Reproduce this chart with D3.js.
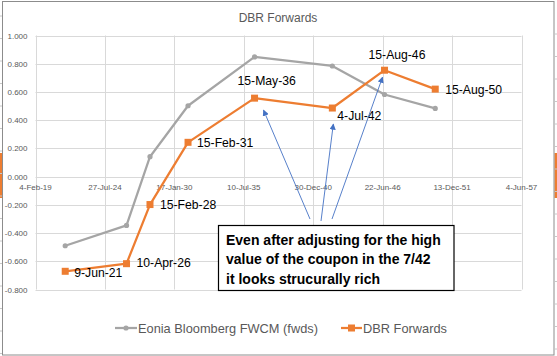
<!DOCTYPE html>
<html><head><meta charset="utf-8">
<script src="https://cdn.jsdelivr.net/npm/d3@7"></script>
<style>html,body{margin:0;padding:0;background:#fff;}svg{display:block;font-family:"Liberation Sans",Arial,sans-serif;}</style>
</head><body><svg id="c" width="557" height="356"></svg>
<script>
// ---- data ----
const dates = ["2021-06-09","2026-04-10","2028-02-15","2031-02-15","2036-05-15","2042-07-04","2046-08-15","2050-08-15"];
const dateLabels = ["9-Jun-21","10-Apr-26","15-Feb-28","15-Feb-31","15-May-36","4-Jul-42","15-Aug-46","15-Aug-50"];
const eonia = [-0.490, -0.346, 0.141, 0.502, 0.848, 0.784, 0.582, 0.483];
const dbr = [-0.671, -0.617, -0.198, 0.243, 0.556, 0.486, 0.754, 0.620];
const xTicks = ["2019-02-04","2024-07-27","2030-01-17","2035-07-10","2040-12-30","2046-06-22","2051-12-13","2057-06-04"];
const yTicks = [1.0, 0.8, 0.6, 0.4, 0.2, 0.0, -0.2, -0.4, -0.6, -0.8];
const seriesNames = ["Eonia Bloomberg FWCM (fwds)", "DBR Forwards"];
const title = "DBR Forwards";
const noteLines = ["Even after adjusting for the high", "value of the coupon in the 7/42", "it looks strucurally rich"];

// ---- drawing ----
const svg = d3.select("#c");
const parse = d3.utcParse("%Y-%m-%d");
const fmt = d3.utcFormat("%-d-%b-%y");
const GRAY = "#A5A5A5", ORANGE = "#ED7D31", TXT = "#595959", GRID = "#D9D9D9", BLUE = "#4472C4";

// excel background fragments
const bg = svg.append("g");
bg.append("rect").attr("x", 0).attr("y", 153).attr("width", 2.5).attr("height", 45).attr("fill", ORANGE);
bg.append("rect").attr("x", 554.5).attr("y", 153).attr("width", 2.5).attr("height", 45).attr("fill", ORANGE);
d3.range(16, 356, 22.5).forEach(v => {
  bg.append("line").attr("x1", 0).attr("x2", 2).attr("y1", v).attr("y2", v).attr("stroke", "#c8c8c8");
  bg.append("line").attr("x1", 555).attr("x2", 557).attr("y1", v + 18).attr("y2", v + 18).attr("stroke", "#c8c8c8");
});

// chart frame
svg.append("rect").attr("x", 2.5).attr("y", 1.5).attr("width", 551.5).attr("height", 353.5)
  .attr("fill", "#fff").attr("stroke", "#8c8c8c").attr("stroke-width", 1);

const x = d3.scaleUtc().domain([parse(xTicks[0]), parse(xTicks[xTicks.length - 1])]).range([35.5, 521.5]);
const y = d3.scaleLinear().domain([-0.8, 1.0]).range([289.5, 35.5]);

// title
svg.append("text").attr("x", 278).attr("y", 22).attr("text-anchor", "middle")
  .attr("font-size", 12).attr("fill", TXT).text(title);

// gridlines
const grid = svg.append("g");
grid.selectAll("line.h").data(yTicks).join("line")
  .attr("x1", x.range()[0]).attr("x2", x.range()[1])
  .attr("y1", d => Math.round(y(d)) + 0.5).attr("y2", d => Math.round(y(d)) + 0.5)
  .attr("stroke", GRID);
grid.selectAll("line.v").data(xTicks).join("line")
  .attr("x1", d => Math.round(x(parse(d))) + 0.5).attr("x2", d => Math.round(x(parse(d))) + 0.5)
  .attr("y1", y.range()[1]).attr("y2", y.range()[0])
  .attr("stroke", GRID);

// y axis labels
svg.append("g").selectAll("text").data(yTicks).join("text")
  .attr("x", 27.5).attr("y", d => y(d) + 3)
  .attr("text-anchor", "end").attr("font-size", 8).attr("fill", TXT)
  .text(d => d.toFixed(3));

// x axis labels (at zero crossing)
svg.append("g").selectAll("text").data(xTicks).join("text")
  .attr("x", d => x(parse(d))).attr("y", y(0) + 13.5)
  .attr("text-anchor", "middle").attr("font-size", 8).attr("fill", TXT)
  .text(d => fmt(parse(d)));

const line = d3.line().x(d => x(d[0])).y(d => y(d[1]));
const eData = dates.map((d, i) => [parse(d), eonia[i]]);
const dData = dates.map((d, i) => [parse(d), dbr[i]]);

svg.append("path").datum(eData).attr("d", line).attr("fill", "none")
  .attr("stroke", GRAY).attr("stroke-width", 2.25).attr("stroke-linejoin", "round");
svg.append("g").selectAll("circle").data(eData).join("circle")
  .attr("cx", d => x(d[0])).attr("cy", d => y(d[1])).attr("r", 2.6).attr("fill", GRAY);

svg.append("path").datum(dData).attr("d", line).attr("fill", "none")
  .attr("stroke", ORANGE).attr("stroke-width", 2.25).attr("stroke-linejoin", "round");
svg.append("g").selectAll("rect").data(dData).join("rect")
  .attr("x", d => x(d[0]) - 3.5).attr("y", d => y(d[1]) - 3.5).attr("width", 7).attr("height", 7).attr("fill", ORANGE);

// data labels (offsets from each point)
const labelOffsets = [[9, 1], [10, -1], [10, 0], [9, 0], [-17, -18], [5, 7], [-16, -16], [10, 0]];
svg.append("g").selectAll("text").data(dData).join("text")
  .attr("x", (d, i) => x(d[0]) + labelOffsets[i][0])
  .attr("y", (d, i) => y(d[1]) + labelOffsets[i][1] + 4.5)
  .attr("font-size", 12.2).attr("fill", "#000")
  .text((d, i) => dateLabels[i]);

// arrows
const defs = svg.append("defs");
defs.append("marker").attr("id", "ah").attr("viewBox", "0 0 10 10").attr("refX", 9).attr("refY", 5)
  .attr("markerWidth", 7).attr("markerHeight", 7).attr("orient", "auto-start-reverse")
  .append("path").attr("d", "M0,0 L10,5 L0,10 z").attr("fill", BLUE);
const arrows = [
  {from: [310, 219], to: 4, off: [9, 12]},
  {from: [321, 221], to: 5, off: [1, 16]},
  {from: [332, 219], to: 6, off: [-2, 7]}
];
svg.append("g").selectAll("line").data(arrows).join("line")
  .attr("x1", d => d.from[0]).attr("y1", d => d.from[1])
  .attr("x2", d => x(dData[d.to][0]) + d.off[0]).attr("y2", d => y(dData[d.to][1]) + d.off[1])
  .attr("stroke", BLUE).attr("stroke-width", 0.9).attr("marker-end", "url(#ah)");

// note box
const note = svg.append("g");
note.append("rect").attr("x", 218.5).attr("y", 225.5).attr("width", 235.5).attr("height", 65)
  .attr("fill", "#fff").attr("stroke", "#000").attr("stroke-width", 1.2);
note.selectAll("text").data(noteLines).join("text")
  .attr("x", 226).attr("y", (d, i) => 244.5 + i * 19.5)
  .attr("font-size", 14).attr("font-weight", "bold").attr("fill", "#000").text(d => d);

// legend
const lg = svg.append("g");
lg.append("line").attr("x1", 115).attr("x2", 137).attr("y1", 328).attr("y2", 328).attr("stroke", GRAY).attr("stroke-width", 2.25);
lg.append("circle").attr("cx", 126).attr("cy", 328).attr("r", 2.6).attr("fill", GRAY);
lg.append("text").attr("x", 138).attr("y", 332.5).attr("font-size", 12.8).attr("fill", TXT).text(seriesNames[0]);
lg.append("line").attr("x1", 341).attr("x2", 362).attr("y1", 328).attr("y2", 328).attr("stroke", ORANGE).attr("stroke-width", 2.25);
lg.append("rect").attr("x", 348).attr("y", 324.5).attr("width", 7).attr("height", 7).attr("fill", ORANGE);
lg.append("text").attr("x", 363).attr("y", 332.5).attr("font-size", 12.8).attr("fill", TXT).text(seriesNames[1]);
</script></body></html>
